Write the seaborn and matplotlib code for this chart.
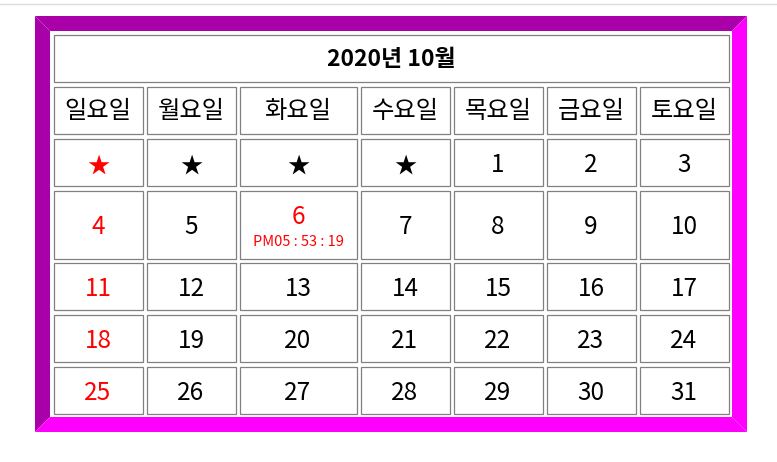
import matplotlib
matplotlib.use("Agg")
import matplotlib.pyplot as plt
from matplotlib.patches import Polygon, Rectangle
import seaborn as sns

# Calendar content
title = "2020년 10월"
weekdays = ["일요일", "월요일", "화요일", "수요일", "목요일", "금요일", "토요일"]
weeks = [
    ["★", "★", "★", "★", "1", "2", "3"],
    ["4", "5", "6", "7", "8", "9", "10"],
    ["11", "12", "13", "14", "15", "16", "17"],
    ["18", "19", "20", "21", "22", "23", "24"],
    ["25", "26", "27", "28", "29", "30", "31"],
]
today = "6"
clock = "PM05 : 53 : 19"

sns.set_theme(style="white")
plt.rcParams["font.family"] = ["Noto Sans CJK KR", "DejaVu Sans"]

# Layout in pixels (table cells, 3px spacing)
col_edges = [(53, 143), (146, 236), (239, 357), (360, 450), (453, 543), (546, 636), (639, 729)]
title_row = (34, 82)
head_row = (86, 134)
week_rows = [(138, 186), (190, 259), (262, 310), (314, 362), (366, 414)]
outer = (35, 16, 747, 432)
inner = (50, 31, 732, 417)

RED = "#ff0000"
GRID = "#808080"
FS = 17.5

fig = plt.figure(figsize=(7.77, 4.62), dpi=100)
ax = fig.add_axes([0, 0, 1, 1])
ax.set_xlim(0, 777)
ax.set_ylim(462, 0)
ax.axis("off")

# thin browser line at the top
ax.plot([0, 777], [3.5, 3.5], color="#dcdcdc", lw=1.0)

# outset border
x0, y0, x1, y1 = outer
i0, j0, i1, j1 = inner
dark, light = "#aa00aa", "#ff00ff"
ax.add_patch(Polygon([(x0, y0), (x1, y0), (i1, j0), (i0, j0)], color=dark, lw=0))
ax.add_patch(Polygon([(x0, y0), (i0, j0), (i0, j1), (x0, y1)], color=dark, lw=0))
ax.add_patch(Polygon([(x0, y1), (i0, j1), (i1, j1), (x1, y1)], color=light, lw=0))
ax.add_patch(Polygon([(x1, y0), (x1, y1), (i1, j1), (i1, j0)], color=light, lw=0))


def cell(xa, xb, ya, yb):
    ax.add_patch(Rectangle((xa + 0.5, ya + 0.5), xb - xa - 1, yb - ya - 1,
                           facecolor="white", edgecolor=GRID, lw=0.9))


# title
cell(col_edges[0][0], col_edges[-1][1], *title_row)
ax.text((col_edges[0][0] + col_edges[-1][1]) / 2, sum(title_row) / 2 + 1, title,
        ha="center", va="center", fontsize=16.5, fontweight="bold", color="black")

# weekday header
for (xa, xb), name in zip(col_edges, weekdays):
    cell(xa, xb, *head_row)
    ax.text((xa + xb) / 2, sum(head_row) / 2 + 1, name, ha="center", va="center",
            fontsize=FS, color="black")

# days
for (ya, yb), week in zip(week_rows, weeks):
    for c, ((xa, xb), label) in enumerate(zip(col_edges, week)):
        cell(xa, xb, ya, yb)
        color = RED if (c == 0 or label == today) else "black"
        cx, cy = (xa + xb) / 2, (ya + yb) / 2 + 3
        if label == today:
            ax.text(cx, cy - 10, label, ha="center", va="center", fontsize=FS, color=color)
            ax.text(cx, cy + 14, clock, ha="center", va="center", fontsize=10.5, color=color)
        elif label == "★":
            ax.text(cx, cy + 1, label, ha="center", va="center", fontsize=16, color=color)
        else:
            ax.text(cx, cy, label, ha="center", va="center", fontsize=FS, color=color)

fig.savefig("out.png", dpi=100)
